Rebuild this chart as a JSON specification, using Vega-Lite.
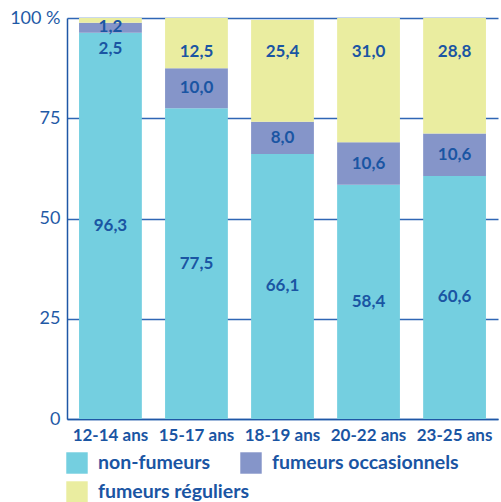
{
  "$schema": "https://vega.github.io/schema/vega-lite/v6.json",
  "width": 431,
  "height": 401,
  "autosize": {"type": "none"},
  "padding": {"left": 67, "top": 18, "right": 3, "bottom": 83},
  "background": "white",
  "config": {"view": {"stroke": null}, "font": "Lato"},
  "data": {"values": [
    {"age": "12-14 ans", "type": "non-fumeurs", "value": 96.3},
    {"age": "12-14 ans", "type": "fumeurs occasionnels", "value": 2.5},
    {"age": "12-14 ans", "type": "fumeurs réguliers", "value": 1.2},
    {"age": "15-17 ans", "type": "non-fumeurs", "value": 77.5},
    {"age": "15-17 ans", "type": "fumeurs occasionnels", "value": 10.0},
    {"age": "15-17 ans", "type": "fumeurs réguliers", "value": 12.5},
    {"age": "18-19 ans", "type": "non-fumeurs", "value": 66.1},
    {"age": "18-19 ans", "type": "fumeurs occasionnels", "value": 8.0},
    {"age": "18-19 ans", "type": "fumeurs réguliers", "value": 25.4},
    {"age": "20-22 ans", "type": "non-fumeurs", "value": 58.4},
    {"age": "20-22 ans", "type": "fumeurs occasionnels", "value": 10.6},
    {"age": "20-22 ans", "type": "fumeurs réguliers", "value": 31.0},
    {"age": "23-25 ans", "type": "non-fumeurs", "value": 60.6},
    {"age": "23-25 ans", "type": "fumeurs occasionnels", "value": 10.6},
    {"age": "23-25 ans", "type": "fumeurs réguliers", "value": 28.8}
  ]},
  "transform": [
    {"calculate": "indexof(['non-fumeurs','fumeurs occasionnels','fumeurs réguliers'], datum.type)", "as": "k"},
    {"stack": "value", "groupby": ["age"], "sort": [{"field": "k", "order": "ascending"}], "as": ["y0", "y1"]},
    {"calculate": "datum.k == 2 ? (datum.value < 5 ? datum.y0 - 1 : 91.5) : (datum.k == 1 && datum.value < 5 ? datum.y0 - 4 : (datum.y0 + datum.y1) / 2)", "as": "ly"},
    {"calculate": "replace(format(datum.value, '.1f'), '.', ',')", "as": "lbl"}
  ],
  "encoding": {
    "x": {
      "field": "age", "type": "nominal", "sort": null,
      "scale": {"paddingInner": 0.27, "paddingOuter": 0.14},
      "axis": {
        "title": null, "labelAngle": 0, "ticks": false, "grid": false,
        "domainColor": "#1f57a6", "domainWidth": 1.5,
        "labelFont": "Lato", "labelFontWeight": "bold", "labelFontSize": 17,
        "labelColor": "#1a55a3", "labelPadding": 8
      }
    }
  },
  "layer": [
    {
      "mark": {"type": "bar"},
      "encoding": {
        "y": {
          "field": "y0", "type": "quantitative",
          "scale": {"domain": [0, 100], "nice": false},
          "axis": {
            "title": null, "values": [0, 25, 50, 75, 100],
            "labelExpr": "datum.value == 100 ? '100 %' : datum.label",
            "ticks": false, "grid": true, "gridColor": "#2f66b5", "gridWidth": 1.5,
            "domainColor": "#1f57a6", "domainWidth": 1.5,
            "labelFont": "Lato", "labelFontSize": 18, "labelColor": "#1f5aa6",
            "labelPadding": 7
          }
        },
        "y2": {"field": "y1"},
        "color": {
          "field": "type", "type": "nominal",
          "scale": {
            "domain": ["non-fumeurs", "fumeurs occasionnels", "fumeurs réguliers"],
            "range": ["#74cfe0", "#8595c9", "#eaeda0"]
          },
          "legend": {
            "title": null, "orient": "none", "legendX": -1, "legendY": 434,
            "direction": "vertical", "values": ["non-fumeurs", "fumeurs réguliers"],
            "rowPadding": 7,
            "symbolType": "square", "symbolSize": 460, "symbolStrokeWidth": 0,
            "labelFont": "Lato", "labelFontWeight": "bold", "labelFontSize": 19.5,
            "labelColor": "#1a55a3", "labelOffset": 10, "labelLimit": 400, "padding": 0
          }
        }
      }
    },
    {
      "transform": [{"filter": "datum.type == 'fumeurs occasionnels'"}],
      "mark": {"type": "point", "filled": true, "opacity": 0, "size": 1},
      "encoding": {
        "y": {"field": "ly", "type": "quantitative"},
        "fill": {
          "field": "type", "type": "nominal",
          "scale": {"domain": ["fumeurs occasionnels"], "range": ["#8595c9"]},
          "legend": {
            "title": null, "orient": "none", "legendX": 173, "legendY": 434,
            "direction": "vertical",
            "symbolType": "square", "symbolSize": 460, "symbolStrokeWidth": 0, "symbolOpacity": 1,
            "labelFont": "Lato", "labelFontWeight": "bold", "labelFontSize": 19.5,
            "labelColor": "#1a55a3", "labelOffset": 10, "labelLimit": 400, "padding": 0
          }
        }
      }
    },
    {
      "mark": {"type": "text", "font": "Lato", "fontWeight": "bold", "fontSize": 17, "color": "#1a55a3", "baseline": "middle"},
      "encoding": {
        "y": {"field": "ly", "type": "quantitative"},
        "text": {"field": "lbl"}
      }
    }
  ]
}
